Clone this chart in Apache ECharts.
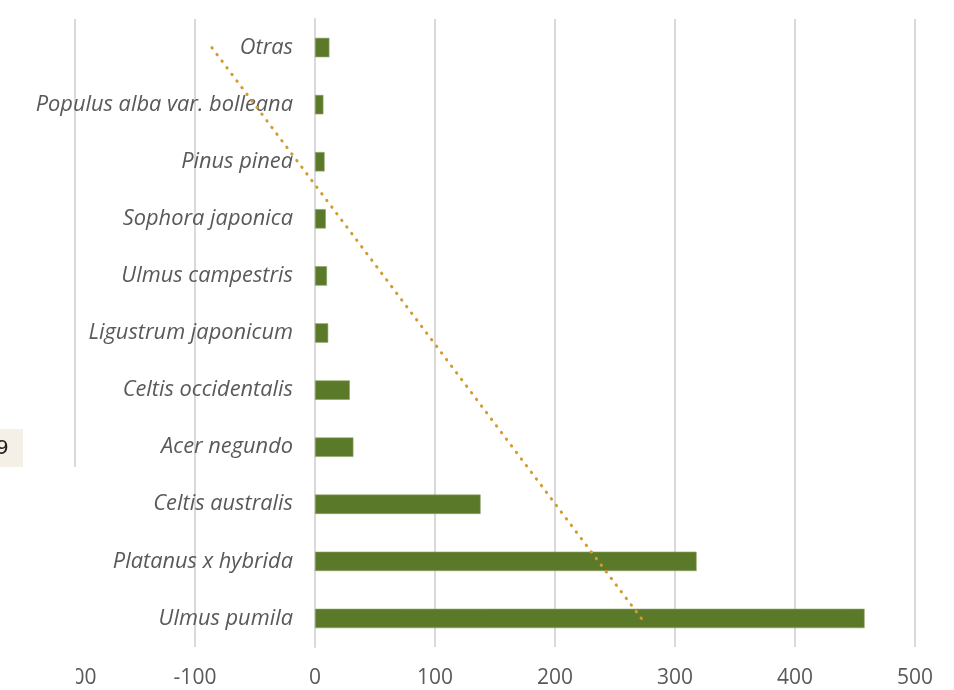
<!DOCTYPE html>
<html>
<head>
<meta charset="utf-8">
<script src="https://cdn.jsdelivr.net/npm/echarts@6/dist/echarts.min.js"></script>
<style>
  html, body { margin: 0; padding: 0; background: #fff; }
  #main { width: 954px; height: 690px; }
</style>
</head>
<body>
<div id="main"></div>
<script>
// categories listed bottom -> top, as in the original spreadsheet
var especies = ['Ulmus pumila', 'Platanus x hybrida', 'Celtis australis', 'Acer negundo',
  'Celtis occidentalis', 'Ligustrum japonicum', 'Ulmus campestris', 'Sophora japonica',
  'Pinus pinea', 'Populus alba var. bolleana', 'Otras'];
var arboles = [458, 318, 138, 32, 29, 11, 10, 9, 8, 7, 12];
// linear trend line, end points
var tendencia = [272, null, null, null, null, null, null, null, null, null, -86];
var ejeX = [-200, 500, 100];

var chart = echarts.init(document.getElementById('main'));

var option = {
  animation: false,
  backgroundColor: '#ffffff',
  grid: {
    left: 75,
    right: 39,
    top: 19,
    bottom: 43,
    outerBoundsMode: 'none',
    containLabel: false
  },
  xAxis: {
    type: 'value',
    min: ejeX[0],
    max: ejeX[1],
    interval: ejeX[2],
    axisLine: { show: false },
    axisTick: { show: false },
    axisLabel: {
      color: '#595959',
      fontSize: 21,
      fontFamily: 'Open Sans',
      margin: 21
    },
    splitLine: {
      lineStyle: { color: '#d9d9d9', width: 2 }
    }
  },
  yAxis: {
    type: 'category',
    data: especies,
    // category axis sits at x = 0 (240 px right of the grid's left edge)
    offset: -240,
    axisLine: {
      show: true,
      onZero: false,
      lineStyle: { color: '#d9d9d9', width: 2 }
    },
    axisTick: { show: false },
    axisLabel: {
      color: '#595959',
      fontSize: 21.8,
      fontStyle: 'italic',
      fontFamily: 'Open Sans',
      margin: 22
    },
    splitLine: { show: false }
  },
  series: [{
    name: 'Árboles',
    type: 'bar',
    data: arboles,
    barWidth: '34%',
    itemStyle: {
      color: '#5b7a29',
      borderColor: '#8ea36a',
      borderWidth: 0.6
    }
  }, {
    name: 'Lineal',
    type: 'line',
    data: tendencia,
    connectNulls: true,
    symbol: 'none',
    z: 5,
    lineStyle: {
      color: '#d29c30',
      width: 3,
      type: [0.5, 7.8],
      cap: 'round'
    }
  }],
  graphic: [{
    type: 'rect',
    z: 100,
    shape: { x: 0, y: 467, width: 76, height: 223 },
    style: { fill: '#ffffff' }
  }, {
    type: 'rect',
    z: 100,
    shape: { x: 0, y: 429, width: 23, height: 38 },
    style: { fill: '#f4f0e8' }
  }, {
    type: 'text',
    z: 101,
    x: -4,
    y: 439,
    style: {
      text: '9',
      fill: '#222222',
      font: '20px "DejaVu Sans"'
    }
  }]
};

chart.setOption(option);
</script>
</body>
</html>
